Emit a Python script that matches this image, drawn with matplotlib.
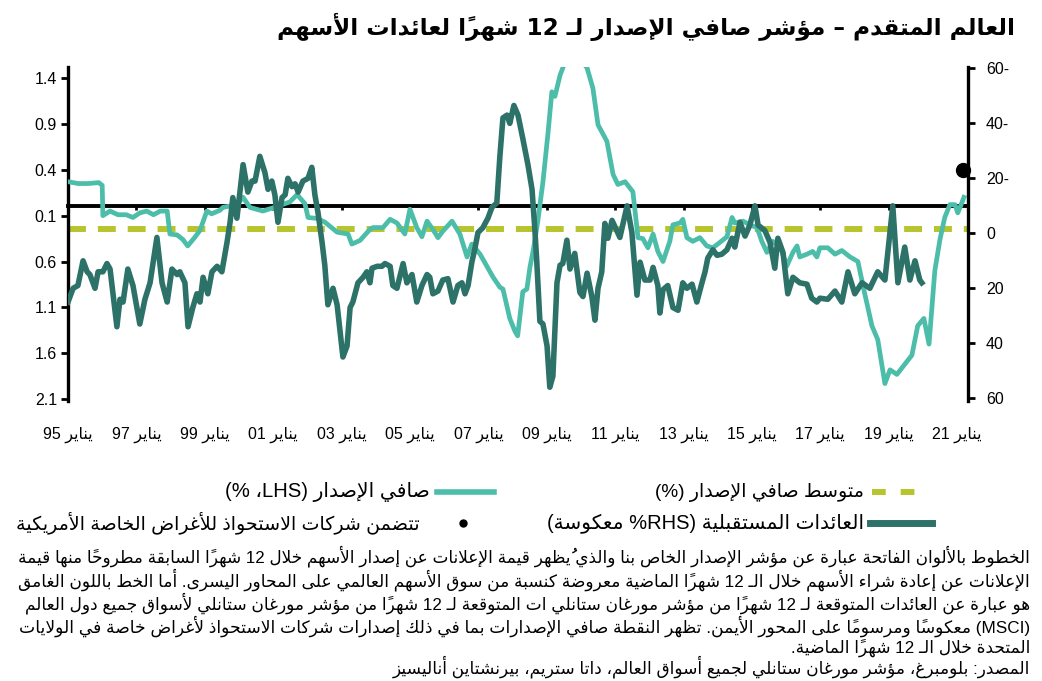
import matplotlib
matplotlib.use("Agg")
import matplotlib.pyplot as plt
import matplotlib.transforms as mtransforms
from matplotlib.lines import Line2D

# ---------------- Arabic shaping + simple bidi (matplotlib has no RTL support) -------------
_FORMS = {
    0x0621: (0xFE80, 'U'), 0x0622: (0xFE81, 'R'), 0x0623: (0xFE83, 'R'), 0x0624: (0xFE85, 'R'),
    0x0625: (0xFE87, 'R'), 0x0626: (0xFE89, 'D'), 0x0627: (0xFE8D, 'R'), 0x0628: (0xFE8F, 'D'),
    0x0629: (0xFE93, 'R'), 0x062A: (0xFE95, 'D'), 0x062B: (0xFE99, 'D'), 0x062C: (0xFE9D, 'D'),
    0x062D: (0xFEA1, 'D'), 0x062E: (0xFEA5, 'D'), 0x062F: (0xFEA9, 'R'), 0x0630: (0xFEAB, 'R'),
    0x0631: (0xFEAD, 'R'), 0x0632: (0xFEAF, 'R'), 0x0633: (0xFEB1, 'D'), 0x0634: (0xFEB5, 'D'),
    0x0635: (0xFEB9, 'D'), 0x0636: (0xFEBD, 'D'), 0x0637: (0xFEC1, 'D'), 0x0638: (0xFEC5, 'D'),
    0x0639: (0xFEC9, 'D'), 0x063A: (0xFECD, 'D'), 0x0641: (0xFED1, 'D'), 0x0642: (0xFED5, 'D'),
    0x0643: (0xFED9, 'D'), 0x0644: (0xFEDD, 'D'), 0x0645: (0xFEE1, 'D'), 0x0646: (0xFEE5, 'D'),
    0x0647: (0xFEE9, 'D'), 0x0648: (0xFEED, 'R'), 0x0649: (0xFEEF, 'R'), 0x064A: (0xFEF1, 'D'),
}
_LAMALEF = {0x0622: 0xFEF5, 0x0623: 0xFEF7, 0x0625: 0xFEF9, 0x0627: 0xFEFB}
_MIRROR = {'(': ')', ')': '(', '[': ']', ']': '['}


def _is_mark(o):
    return 0x064B <= o <= 0x0652 or o == 0x0670


def _jtype(c):
    o = ord(c)
    if o == 0x0640:
        return 'C'
    if o in _FORMS:
        return _FORMS[o][1]
    if _is_mark(o):
        return 'T'
    return 'U'


def _shape(s):
    n = len(s)
    out = []
    i = 0
    while i < n:
        c = s[i]
        o = ord(c)
        t = _jtype(c)
        if t in ('D', 'R'):
            j = i - 1
            while j >= 0 and _jtype(s[j]) == 'T':
                j -= 1
            prev_j = j >= 0 and _jtype(s[j]) in ('D', 'C')
            k = i + 1
            while k < n and _jtype(s[k]) == 'T':
                k += 1
            if o == 0x0644 and k < n and ord(s[k]) in _LAMALEF:
                out.append(chr(_LAMALEF[ord(s[k])] + (1 if prev_j else 0)))
                for m in range(i + 1, k):
                    out.append(s[m])
                i = k + 1
                continue
            next_j = t == 'D' and k < n and _jtype(s[k]) in ('D', 'R', 'C')
            st = _FORMS[o][0]
            if t == 'D':
                g = st + 3 if (prev_j and next_j) else st + 1 if prev_j else st + 2 if next_j else st
            else:
                g = st + 1 if prev_j else st
            out.append(chr(g))
        elif o in _FORMS:
            out.append(chr(_FORMS[o][0]))
        else:
            out.append(c)
        i += 1
    return ''.join(out)


def ar(s):
    s = _shape(s)
    clusters = []
    for c in s:
        if _is_mark(ord(c)) and clusters:
            clusters[-1] += c
        else:
            clusters.append(c)
    types = []
    for cl in clusters:
        o = ord(cl[0])
        if 0x0600 <= o <= 0x06FF or 0xFB50 <= o <= 0xFDFF or 0xFE70 <= o <= 0xFEFF:
            types.append('R')
        elif cl[0].isascii() and cl[0].isalnum():
            types.append('L')
        else:
            types.append('N')
    n = len(clusters)
    res = types[:]
    for i in range(n):
        if types[i] == 'N':
            p = next((types[j] for j in range(i - 1, -1, -1) if types[j] != 'N'), 'R')
            q = next((types[j] for j in range(i + 1, n) if types[j] != 'N'), 'R')
            res[i] = 'L' if (p == 'L' and q == 'L') else 'R'
    runs = []
    for cl, t in zip(clusters, res):
        if runs and runs[-1][0] == t:
            runs[-1][1].append(cl)
        else:
            runs.append([t, [cl]])
    out = []
    for t, cls in reversed(runs):
        if t == 'R':
            for cl in reversed(cls):
                out.append(_MIRROR.get(cl, cl))
        else:
            out.extend(cls)
    return ''.join(out)


# ---------------- data ----------------
issuance_dates = [
    1995.0, 1995.3, 1995.6, 1995.9, 1996.0, 1996.02, 1996.23, 1996.46, 1996.7, 1996.9, 1997.1, 1997.3,
    1997.5, 1997.7, 1997.9, 1997.98, 1998.19, 1998.36, 1998.5, 1998.7, 1998.86, 1999.06, 1999.2,
    1999.45, 1999.53, 1999.94, 2000.12, 2000.32, 2000.7, 2001.11, 2001.49, 2001.7, 2001.93, 2002.02,
    2002.28, 2002.51, 2002.87, 2003.19, 2003.3, 2003.54, 2003.83, 2003.92, 2004.21, 2004.42, 2004.62,
    2004.85, 2005.0, 2005.2, 2005.35, 2005.5, 2005.67, 2005.82, 2005.96, 2006.23, 2006.46, 2006.67,
    2006.81, 2007.05, 2007.43, 2007.63, 2007.72, 2007.92, 2008.07, 2008.15, 2008.3, 2008.42, 2008.51,
    2008.6, 2008.74, 2008.89, 2009.04, 2009.15, 2009.24, 2009.39, 2009.47, 2009.6, 2009.8, 2009.95,
    2010.18, 2010.35, 2010.5, 2010.76, 2010.94, 2011.08, 2011.29, 2011.52, 2011.67, 2011.81, 2011.96,
    2012.11, 2012.25, 2012.4, 2012.6, 2012.69, 2012.9, 2012.98, 2013.1, 2013.27, 2013.48, 2013.68,
    2013.86, 2014.0, 2014.27, 2014.42, 2014.5, 2014.74, 2014.94, 2015.15, 2015.29, 2015.44, 2015.61,
    2015.82, 2016.02, 2016.2, 2016.32, 2016.4, 2016.61, 2016.78, 2016.9, 2016.99, 2017.22, 2017.43,
    2017.63, 2017.87, 2018.1, 2018.3, 2018.51, 2018.68, 2018.89, 2019.04, 2019.24, 2019.47, 2019.68,
    2019.85, 2020.03, 2020.18, 2020.35, 2020.5, 2020.64, 2020.79, 2020.94, 2021.02, 2021.14, 2021.2,
]
net_issuance = [
    0.27, 0.25, 0.25, 0.26, 0.23, -0.10, -0.05, -0.09, -0.09, -0.12, -0.07, -0.05,
    -0.09, -0.05, -0.05, -0.30, -0.31, -0.36, -0.43, -0.34, -0.26, -0.05, -0.08,
    -0.04, -0.01, 0.02, 0.10, -0.01, -0.05, 0.0, 0.05, 0.13, 0.03, -0.12,
    -0.13, -0.17, -0.28, -0.30, -0.41, -0.37, -0.25, -0.23, -0.23, -0.14, -0.18,
    -0.30, -0.03, -0.23, -0.33, -0.16, -0.25, -0.34, -0.27, -0.16, -0.30, -0.55,
    -0.41, -0.52, -0.77, -0.88, -0.90, -1.22, -1.36, -1.41, -0.93, -0.90, -0.66,
    -0.49, -0.16, 0.27, 0.81, 1.25, 1.20, 1.43, 1.51, 1.65, 1.70, 1.62,
    1.51, 1.29, 0.89, 0.71, 0.35, 0.24, 0.27, 0.16, -0.34, -0.35, -0.45,
    -0.30, -0.49, -0.60, -0.38, -0.20, -0.18, -0.14, -0.34, -0.38, -0.34, -0.43,
    -0.45, -0.41, -0.33, -0.12, -0.18, -0.16, -0.20, -0.23, -0.38, -0.50, -0.38,
    -0.43, -0.65, -0.50, -0.43, -0.55, -0.52, -0.49, -0.55, -0.45, -0.45, -0.52,
    -0.48, -0.55, -0.60, -0.95, -1.30, -1.45, -1.93, -1.78, -1.83, -1.72, -1.62,
    -1.30, -1.22, -1.50, -0.70, -0.36, -0.12, 0.02, 0.02, -0.07, 0.04, 0.10,
]

returns_dates = [
    1995.0, 1995.15, 1995.29, 1995.44, 1995.56, 1995.64, 1995.79, 1995.88, 1996.02, 1996.14, 1996.23,
    1996.43, 1996.52, 1996.61, 1996.75, 1996.9, 1997.1, 1997.25, 1997.4, 1997.6, 1997.75, 1997.9,
    1998.04, 1998.19, 1998.27, 1998.42, 1998.51, 1998.65, 1998.77, 1998.86, 1998.95, 1999.09, 1999.21,
    1999.36, 1999.5, 1999.65, 1999.74, 1999.82, 1999.94, 2000.12, 2000.26, 2000.38, 2000.47, 2000.61,
    2000.76, 2000.85, 2000.96, 2001.05, 2001.14, 2001.26, 2001.35, 2001.43, 2001.55, 2001.64, 2001.73,
    2001.87, 2002.02, 2002.13, 2002.22, 2002.31, 2002.43, 2002.51, 2002.6, 2002.75, 2002.87, 2003.04,
    2003.16, 2003.25, 2003.33, 2003.48, 2003.63, 2003.74, 2003.83, 2003.89, 2004.04, 2004.18, 2004.27,
    2004.42, 2004.5, 2004.62, 2004.8, 2004.91, 2005.06, 2005.2, 2005.35, 2005.5, 2005.58, 2005.67,
    2005.82, 2005.96, 2006.11, 2006.26, 2006.4, 2006.52, 2006.61, 2006.7, 2006.81, 2006.9, 2006.99,
    2007.13, 2007.28, 2007.4, 2007.54, 2007.63, 2007.72, 2007.84, 2007.92, 2008.04, 2008.16, 2008.3,
    2008.45, 2008.57, 2008.65, 2008.71, 2008.8, 2008.89, 2009.01, 2009.09, 2009.18, 2009.3, 2009.39,
    2009.47, 2009.59, 2009.68, 2009.82, 2009.97, 2010.06, 2010.18, 2010.32, 2010.41, 2010.5, 2010.61,
    2010.7, 2010.79, 2010.91, 2011.14, 2011.35, 2011.49, 2011.64, 2011.73, 2011.87, 2012.02, 2012.11,
    2012.25, 2012.31, 2012.4, 2012.54, 2012.69, 2012.84, 2012.98, 2013.1, 2013.25, 2013.39, 2013.54,
    2013.63, 2013.71, 2013.86, 2013.98, 2014.12, 2014.27, 2014.42, 2014.5, 2014.65, 2014.8, 2014.94,
    2015.09, 2015.18, 2015.38, 2015.53, 2015.67, 2015.76, 2015.91, 2016.05, 2016.2, 2016.4, 2016.61,
    2016.75, 2016.9, 2016.99, 2017.22, 2017.43, 2017.63, 2017.81, 2018.01, 2018.22, 2018.45, 2018.68,
    2018.89, 2019.12, 2019.27, 2019.47, 2019.62, 2019.77, 2019.91, 2019.97,
]
future_returns = [
    25, 20, 19, 10, 14, 15, 20, 14, 14, 11, 13,
    34, 24, 25, 13, 19, 33, 24, 18, 1.5, 18, 25,
    13, 15, 14, 18, 34, 27, 22, 25, 16, 22, 14,
    12, 14, 3.3, -4, -13, -5.5, -25, -15, -19, -19, -28,
    -22, -16, -19, -14, -4, -13, -14, -20, -17, -18, -15,
    -19, -20, -24, -14, -7.6, 3.3, 11.6, 26, 20, 26, 45,
    41, 27, 25, 18, 16, 14, 18, 12.7, 12, 12, 11,
    12, 19, 20, 11, 18, 15, 25, 19, 15, 16, 22,
    21, 17, 16.5, 25, 19, 18, 22, 19, 10.5, 5.5, -0.3,
    -2, -5.5, -9.5, -11, -28, -42, -43, -40, -46.5, -43, -34.5,
    -25, -16, -2, 10.5, 32, 33, 41, 56, 52, 18, 11.6,
    11, 2.5, 13, 7.3, 21.5, 23, 14.5, 23, 31.6, 20, 14,
    -3.6, 1.8, -4.7, 1.5, -10, -0.4, 22.5, 10.5, 17, 17, 12.4,
    19, 29, 20.5, 19, 27, 28, 18, 20, 18.5, 25, 18,
    14, 9, 6, 8, 7.6, 6, 1.8, 5, -4, 1, -3,
    -10, -3, -1, 3.3, 12.7, 1.8, 7, 22, 16, 18, 18.5,
    23.6, 25, 23.6, 24, 21, 25, 14, 22, 18, 20, 14,
    17, -10, 18, 5, 17, 10, 17, 18,
]

mean_issuance = -0.25
spac_date = 2021.17
spac_issuance = 0.40

x_tick_years = [1995, 1997, 1999, 2001, 2003, 2005, 2007, 2009, 2011, 2013, 2015, 2017, 2019, 2021]
x_tick_labels = ["يناير 95", "يناير 97", "يناير 99", "يناير 01", "يناير 03", "يناير 05", "يناير 07",
                 "يناير 09", "يناير 11", "يناير 13", "يناير 15", "يناير 17", "يناير 19", "يناير 21"]
lhs_ticks = [1.4, 0.9, 0.4, -0.1, -0.6, -1.1, -1.6, -2.1]
lhs_labels = ["1.4", "0.9", "0.4", "0.1", "0.6", "1.1", "1.6", "2.1"]
rhs_ticks = [-60, -40, -20, 0, 20, 40, 60]
rhs_labels = ["60-", "40-", "20-", "0", "20", "40", "60"]

title = "العالم المتقدم – مؤشر صافي الإصدار لـ 12 شهراً لعائدات الأسهم"
legend_issuance = "صافي الإصدار (LHS، %)"
legend_mean = "متوسط صافي الإصدار (%)"
legend_returns = "العائدات المستقبلية (RHS% معكوسة)"
legend_spac = "تتضمن شركات الاستحواذ للأغراض الخاصة الأمريكية"
footnote_lines = [
    "الخطوط بالألوان الفاتحة عبارة عن مؤشر الإصدار الخاص بنا والذي يُظهر قيمة الإعلانات عن إصدار الأسهم خلال 12 شهراً السابقة مطروحاً منها قيمة",
    "الإعلانات عن إعادة شراء الأسهم خلال الـ 12 شهراً الماضية معروضة كنسبة من سوق الأسهم العالمي على المحاور اليسرى. أما الخط باللون الغامق",
    "هو عبارة عن العائدات المتوقعة لـ 12 شهراً من مؤشر مورغان ستانلي ات المتوقعة لـ 12 شهراً من مؤشر مورغان ستانلي لأسواق جميع دول العالم",
    "(MSCI) معكوساً ومرسوماً على المحور الأيمن. تظهر النقطة صافي الإصدارات بما في ذلك إصدارات شركات الاستحواذ لأغراض خاصة في الولايات",
    "المتحدة خلال الـ 12 شهراً الماضية.",
    "المصدر: بلومبرغ، مؤشر مورغان ستانلي لجميع أسواق العالم، داتا ستريم، بيرنشتاين أناليسيز",
]

# ---------------- style ----------------
TEAL = "#4bbda9"
DARK = "#2d7268"
YELLOW = "#b7c42d"
FAM = ["Liberation Sans", "DejaVu Sans"]
AFAM = ["DejaVu Sans"]

W, H = 1042, 681
fig = plt.figure(figsize=(W / 100, H / 100), dpi=100)
renderer = fig.canvas.get_renderer()


def fx(px):
    return px / W


def fy(py):
    return 1 - py / H


def fit(t, target_px):
    w = t.get_window_extent(renderer).width
    t.set_fontsize(t.get_fontsize() * target_px / w)
    return t


ax = fig.add_axes([fx(68), fy(401), fx(968) - fx(68), fy(67) - fy(401)])
ax.set_xlim(1995.0, 2021.32)
ax.set_ylim(-2.12, 1.52)

# lines on LHS
ax.axhline(mean_issuance, color=YELLOW, lw=4.3, dashes=(3.0, 2.0), zorder=2)
ax.plot(issuance_dates, net_issuance, color=TEAL, lw=3.4, zorder=3, solid_joinstyle="round")
ax.plot([spac_date], [spac_issuance], "o", color="black", ms=10, zorder=6, clip_on=False)

# spines
for s in ("top", "right"):
    ax.spines[s].set_visible(False)
ax.spines["left"].set_linewidth(2.4)
ax.spines["bottom"].set_position(("data", 0))
ax.spines["bottom"].set_linewidth(2.8)
ax.spines["bottom"].set_zorder(1)
ax.set_xticks(x_tick_years)
ax.tick_params(axis="x", direction="out", length=3, width=2, labelbottom=False)
ax.set_yticks(lhs_ticks)
ax.set_yticklabels(lhs_labels, fontsize=11.5, family=FAM)
ax.tick_params(axis="y", direction="out", length=5, width=2, pad=3)

# RHS
ax2 = ax.twinx()
ax2.set_ylim(61, -60.5)
ax2.plot(returns_dates, future_returns, color=DARK, lw=4.0, zorder=3, solid_joinstyle="round")
for s in ("top", "left", "bottom"):
    ax2.spines[s].set_visible(False)
ax2.spines["right"].set_linewidth(2.4)
ax2.set_yticks(rhs_ticks)
ax2.set_yticklabels(rhs_labels, fontsize=11.5, family=FAM)
ax2.tick_params(axis="y", direction="out", length=5, width=2, pad=8)
ax2.set_xlim(ax.get_xlim())

# x tick labels at the bottom
tr = mtransforms.blended_transform_factory(ax.transData, fig.transFigure)
for yr, lab in zip(x_tick_years, x_tick_labels):
    ax.text(yr, fy(435), ar(lab), transform=tr, ha="center", va="center",
            fontsize=11.5, family=FAM)

# title
t = fig.text(fx(1015), fy(27), ar(title), ha="right", va="center", fontsize=17,
             fontweight="bold", family=AFAM)
fit(t, 737)

# legend
fig.add_artist(Line2D([fx(872), fx(920)], [fy(492), fy(492)], color=YELLOW, lw=4.3,
                      dashes=(2.3, 2.5), transform=fig.transFigure))
fit(fig.text(fx(864), fy(492), ar(legend_mean), ha="right", va="center", fontsize=12, family=FAM), 208)
fig.add_artist(Line2D([fx(437), fx(494)], [fy(492), fy(492)], color=TEAL, lw=4.0,
                      transform=fig.transFigure))
fit(fig.text(fx(430), fy(492), ar(legend_issuance), ha="right", va="center", fontsize=12, family=FAM), 205)
fig.add_artist(Line2D([fx(870), fx(932)], [fy(523), fy(523)], color=DARK, lw=5.0,
                      transform=fig.transFigure))
fit(fig.text(fx(864), fy(523), ar(legend_returns), ha="right", va="center", fontsize=12, family=FAM), 316)
fig.add_artist(Line2D([fx(463)], [fy(523)], marker="o", color="black", ms=5, lw=0,
                      transform=fig.transFigure))
fit(fig.text(fx(420), fy(523), ar(legend_spac), ha="right", va="center", fontsize=12, family=FAM), 400)

# footnote: first four lines justified to the full width, last two at the common size
foot_y = [556, 580, 603, 626, 648, 667]
sizes = []
for i, (yy, line) in enumerate(zip(foot_y, footnote_lines)):
    t = fig.text(fx(1030), fy(yy), ar(line), ha="right", va="center", fontsize=10.5, family=FAM)
    if i < 4:
        fit(t, 1010)
        sizes.append(t.get_fontsize())
    else:
        t.set_fontsize(sum(sizes) / len(sizes))

fig.savefig("out.png", dpi=100)
